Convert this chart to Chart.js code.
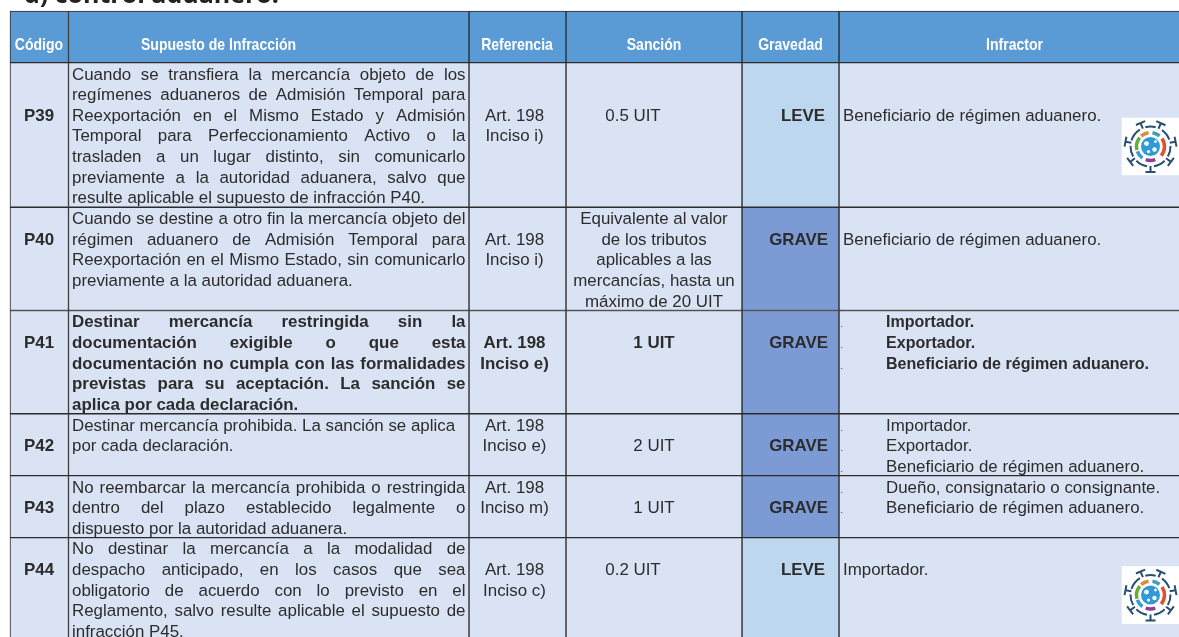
<!DOCTYPE html>
<html lang="es">
<head>
<meta charset="utf-8">
<title>Infracciones</title>
<style>
  html, body { margin: 0; padding: 0; background: #fff; overflow: hidden; }
  canvas { display: block; }
</style>
<script src="https://cdn.jsdelivr.net/npm/chart.js@4"></script>
</head>
<body>
<canvas id="tableChart" width="1179" height="637"></canvas>
<script>
const clippedTitle = 'd) control aduanero.';
const headers = ['Código', 'Supuesto de Infracción', 'Referencia', 'Sanción', 'Gravedad', 'Infractor'];

// blank strings keep a cell's text on the right line of its row
const codes = [
  ['', '', 'P39'], ['', 'P40'], ['', 'P41'], ['', 'P42'], ['', 'P43'], ['', 'P44']
];
const supuestos = [
  ['Cuando se transfiera la mercancía objeto de los', 'regímenes aduaneros de Admisión Temporal para',
   'Reexportación en el Mismo Estado y Admisión', 'Temporal para Perfeccionamiento Activo o la',
   'trasladen a un lugar distinto, sin comunicarlo', 'previamente a la autoridad aduanera, salvo que',
   'resulte aplicable el supuesto de infracción P40.'],
  ['Cuando se destine a otro fin la mercancía objeto del', 'régimen aduanero de Admisión Temporal para',
   'Reexportación en el Mismo Estado, sin comunicarlo', 'previamente a la autoridad aduanera.'],
  ['Destinar mercancía restringida sin la', 'documentación exigible o que esta',
   'documentación no cumpla con las formalidades', 'previstas para su aceptación. La sanción se',
   'aplica por cada declaración.'],
  ['Destinar mercancía prohibida. La sanción se aplica', 'por cada declaración.'],
  ['No reembarcar la mercancía prohibida o restringida', 'dentro del plazo establecido legalmente o',
   'dispuesto por la autoridad aduanera.'],
  ['No destinar la mercancía a la modalidad de', 'despacho anticipado, en los casos que sea',
   'obligatorio de acuerdo con lo previsto en el', 'Reglamento, salvo resulte aplicable el supuesto de',
   'infracción P45.']
];
const justifiedLines = [6, 3, 4, 0, 2, 4];
const referencias = [
  ['', '', 'Art. 198', 'Inciso i)'], ['', 'Art. 198', 'Inciso i)'], ['', 'Art. 198', 'Inciso e)'],
  ['Art. 198', 'Inciso e)'], ['Art. 198', 'Inciso m)'], ['', 'Art. 198', 'Inciso c)']
];
const sanciones = [
  ['', '', '0.5 UIT'],
  ['Equivalente al valor', 'de los tributos', 'aplicables a las', 'mercancías, hasta un', 'máximo de 20 UIT'],
  ['', '1 UIT'], ['', '2 UIT'], ['', '1 UIT'], ['', '0.2 UIT']
];
const gravedades = ['LEVE', 'GRAVE', 'GRAVE', 'GRAVE', 'GRAVE', 'LEVE'];
const gravedadLines = [2, 1, 1, 1, 1, 1];
const infractores = [
  ['', '', 'Beneficiario de régimen aduanero.'],
  ['', 'Beneficiario de régimen aduanero.'],
  ['Importador.', 'Exportador.', 'Beneficiario de régimen aduanero.'],
  ['Importador.', 'Exportador.', 'Beneficiario de régimen aduanero.'],
  ['Dueño, consignatario o consignante.', 'Beneficiario de régimen aduanero.'],
  ['', 'Importador.']
];
const boldRow = 2;
const listRows = [2, 3, 4];
const logoRows = [0, 5];

// table grid: x axis in pixels, y axis in text lines counted from the header's bottom
const colWidths = [58.5, 400.5, 97, 176, 97, 345];
const tableLeft = 10;
const headerLines = 2.5;
const rowLines = [7, 5, 5, 3, 3, 5];
const lineH = 20.65;
const yMin = -62.7 / lineH;
const yMax = yMin + 637 / lineH;

const colEdges = [tableLeft];
colWidths.forEach(w => colEdges.push(colEdges[colEdges.length - 1] + w));
const rowEdges = [-headerLines, 0];
rowLines.forEach(n => rowEdges.push(rowEdges[rowEdges.length - 1] + n));

const BLUE = '#5B9BD5', BODY = '#D9E3F4', LEVE = '#BDD7EE', GRAVE = '#7C9BD5', LINE = '#2b2b2b', INK = '#2c2c2c';

function cellColor(col, row) {
  if (row === 0) return BLUE;
  if (col === 4) return gravedades[row - 1] === 'LEVE' ? LEVE : GRAVE;
  return BODY;
}

const datasets = colWidths.map((w, c) => ({
  label: headers[c],
  data: rowEdges.slice(0, -1).map((top, r) => ({ x: colEdges[c] + w / 2, y: [top, rowEdges[r + 1]] })),
  backgroundColor: ctx => cellColor(c, ctx.dataIndex),
  borderColor: LINE,
  borderWidth: 1,
  borderSkipped: false,
  barThickness: w,
  grouped: false
}));

// white box behind each logo, drawn first in the list so it sits on top
datasets.unshift({
  label: 'logo',
  data: logoRows.map(r => {
    const c = rowEdges[r + 1] + (r === 0 ? 4.06 : 2.78);
    return { x: 1150.5, y: [c - 1.38, c + 1.38] };
  }),
  backgroundColor: '#fff',
  borderWidth: 0,
  barThickness: 57,
  grouped: false
});

function drawLogo(g, cx, cy) {
  const navy = '#27506f';
  const rad = d => (d - 90) * Math.PI / 180;
  g.save();
  g.translate(cx, cy);
  g.strokeStyle = navy;
  g.lineWidth = 2;
  const spikes = [-23, 24, -79, 79, -127, 127, 180];
  spikes.forEach(d => {
    g.save();
    g.rotate(d * Math.PI / 180);
    g.beginPath();
    g.moveTo(0, -19.5); g.lineTo(0, -25.5);
    g.moveTo(-5, -25.5); g.lineTo(5, -25.5);
    g.stroke();
    g.restore();
  });
  g.beginPath(); g.arc(0, 0, 20, rad(-15), rad(15)); g.stroke();
  [[35, 70], [88, 120], [135, 170], [190, 225], [240, 272], [288, 328]].forEach(a => {
    g.beginPath(); g.arc(0, 0, 20, rad(a[0]), rad(a[1])); g.stroke();
  });
  g.lineWidth = 3.5;
  [[-42, -8, '#d98a45'], [8, 40, '#3f9fb0'], [55, 130, '#d9542f'], [160, 200, '#8e3f9c'],
   [215, 250, '#3a9bd0'], [255, 310, '#6aaa3a']].forEach(a => {
    g.strokeStyle = a[2];
    g.beginPath(); g.arc(0, 0, 14, rad(a[0]), rad(a[1])); g.stroke();
  });
  g.fillStyle = '#2f9ad6';
  g.beginPath(); g.arc(0, 0, 9.5, 0, Math.PI * 2); g.fill();
  g.fillStyle = '#fff';
  [[-4, -3, 2.4], [4, 3, 2.2], [-2, 5, 1.6], [5, -5, 1.4]].forEach(p => {
    g.beginPath(); g.arc(p[0], p[1], p[2], 0, Math.PI * 2); g.fill();
  });
  g.restore();
}

const tableText = {
  id: 'tableText',
  afterDatasetsDraw(chart) {
    const g = chart.ctx;
    const xs = chart.scales.x, ys = chart.scales.y;
    const lineY = (r, i) => ys.getPixelForValue(rowEdges[r + 1] + i + 0.5) + 6.5;

    function put(text, x, y, font, color, align, scaleX) {
      g.save();
      g.font = font;
      g.fillStyle = color;
      g.textAlign = align;
      g.textBaseline = 'alphabetic';
      g.translate(x, y);
      g.scale(scaleX || 1, 1);
      g.fillText(text, 0, 0);
      g.restore();
    }

    put(clippedTitle, xs.getPixelForValue(24), 3, 'bold 25.5px "Open Sans"', '#222', 'left', 0.98);

    const headerX = [39, 218.5, 517, 654, 790.5, 1014.5];
    headers.forEach((h, c) => {
      put(h, xs.getPixelForValue(headerX[c]), 50, 'bold 17px "Liberation Sans"', '#fff', 'center', 0.825);
    });

    const size = 16.9;
    for (let r = 0; r < rowLines.length; r++) {
      const bold = r === boldRow;
      const font = (bold ? 'bold ' : '') + size + 'px "Liberation Sans"';
      const boldFont = 'bold ' + size + 'px "Liberation Sans"';
      const leve = gravedades[r] === 'LEVE';

      codes[r].forEach((t, i) => put(t, xs.getPixelForValue(39), lineY(r, i), boldFont, INK, 'center'));

      const left = xs.getPixelForValue(72), right = xs.getPixelForValue(465.5);
      supuestos[r].forEach((t, i) => {
        g.save();
        g.font = font;
        g.fillStyle = INK;
        g.textAlign = 'left';
        if (i < justifiedLines[r]) {
          const gaps = t.split(' ').length - 1;
          g.wordSpacing = ((right - left - g.measureText(t).width) / gaps) + 'px';
        }
        g.fillText(t, left, lineY(r, i));
        g.restore();
      });

      referencias[r].forEach((t, i) => put(t, xs.getPixelForValue(514.5), lineY(r, i), font, INK, 'center'));
      sanciones[r].forEach((t, i) => put(t, xs.getPixelForValue(leve ? 633 : 654), lineY(r, i), font, INK, 'center'));
      put(gravedades[r], xs.getPixelForValue(leve ? 825 : 828), lineY(r, gravedadLines[r]), boldFont, INK, 'right');

      const listed = listRows.includes(r);
      infractores[r].forEach((t, i) => {
        if (!t) return;
        put(t, xs.getPixelForValue(listed ? 886 : 843), lineY(r, i), font, INK, 'left', bold ? 0.95 : 1);
        if (listed) put('.', xs.getPixelForValue(840.5), lineY(r, i), '9px "Liberation Sans"', INK, 'left');
      });
    }

    chart.getDatasetMeta(0).data.forEach(bar => drawLogo(g, bar.x, (bar.y + bar.base) / 2));
  }
};

new Chart(document.getElementById('tableChart').getContext('2d'), {
  type: 'bar',
  data: { datasets },
  options: {
    responsive: false,
    animation: false,
    events: [],
    layout: { padding: 0 },
    plugins: { legend: { display: false }, tooltip: { enabled: false } },
    scales: {
      x: { type: 'linear', display: false, offset: false, min: 0, max: 1179 },
      y: { type: 'linear', display: false, reverse: true, min: yMin, max: yMax }
    }
  },
  plugins: [tableText]
});
</script>
</body>
</html>
